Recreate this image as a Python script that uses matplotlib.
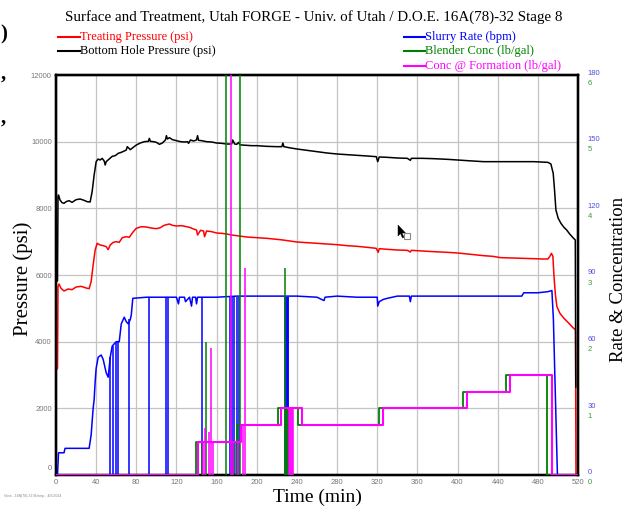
import matplotlib
matplotlib.use("Agg")
import matplotlib.pyplot as plt
from matplotlib.lines import Line2D
from matplotlib.patches import Polygon, Rectangle
from matplotlib.transforms import ScaledTranslation

# ---------------- data ----------------
# Treating pressure (psi)
tp_time = [0, 1.5, 2, 3, 5, 8, 12, 16, 20, 25, 30, 33, 35, 37, 39, 41, 44, 47, 50, 52,
           54, 57, 60, 63, 66, 70, 73, 77, 80, 85, 90, 93, 97, 100, 104, 107, 110, 113,
           116, 120, 125, 130, 133, 137, 140, 141, 144, 147, 148, 150, 155, 160, 165,
           170, 175, 180, 185, 190, 200, 210, 220, 226, 233, 240, 250, 260, 270, 280,
           290, 300, 310, 319, 321, 322, 330, 340, 350, 353, 354, 365, 376, 390, 400,
           410, 426, 435, 443, 455, 465, 476, 484, 490, 492, 493.5, 495, 496, 497.5,
           499, 502, 506, 510, 514, 517.5, 518]
tp_psi = [3150, 3200, 5650, 5730, 5600, 5520, 5580, 5560, 5640, 5660, 5610, 5590, 5800,
          6300, 6750, 6950, 6900, 6880, 6850, 6760, 6900, 6980, 7000, 6980, 7120, 7150,
          7130, 7300, 7400, 7450, 7440, 7420, 7400, 7390, 7420, 7480, 7510, 7530, 7490,
          7470, 7480, 7450, 7430, 7380, 7350, 7200, 7340, 7320, 7150, 7320, 7300, 7260,
          7250, 7230, 7200, 7180, 7160, 7140, 7120, 7100, 7070, 7050, 7020, 6990, 6970,
          6950, 6930, 6910, 6880, 6860, 6830, 6800, 6680, 6790, 6770, 6750, 6740, 6690,
          6740, 6720, 6700, 6680, 6660, 6630, 6580, 6560, 6520, 6510, 6500, 6490, 6480,
          6480, 6560, 6650, 6560, 6000, 5400, 5050, 4850, 4700, 4580, 4450, 4350, 0]

# Bottom hole pressure (psi)
bh_time = [0, 1.5, 2, 2.5, 4, 6, 8, 10, 13, 16, 20, 24, 28, 31, 34, 36, 38, 40, 42, 44,
           46, 48, 49, 50, 53, 56, 59, 62, 65, 68, 70, 71, 74, 77, 80, 84, 88, 92, 93,
           94, 97, 100, 103, 106, 109, 110, 111, 113, 116, 120, 124, 128, 131, 132, 134,
           137, 140, 141, 142, 145, 150, 155, 160, 165, 170, 175, 176, 178, 180, 182,
           183, 185, 190, 195, 200, 210, 220, 225, 226, 227, 232, 240, 250, 260, 270,
           280, 290, 300, 310, 319, 320.5, 322, 330, 340, 350, 353, 354, 365, 376, 390,
           400, 410, 426, 443, 460, 476, 490, 493, 495.3, 496.5, 498, 500.3, 503, 506,
           508.7, 512, 515, 517.3, 517.8]
bh_psi = [5820, 5820, 8350, 8400, 8250, 8170, 8150, 8200, 8230, 8180, 8260, 8280, 8240,
          8200, 8190, 8500, 9000, 9400, 9480, 9450, 9500, 9420, 9300, 9400, 9480, 9560,
          9580, 9650, 9680, 9720, 9750, 9850, 9760, 9830, 9900, 9960, 10000, 10010,
          10100, 10010, 10000, 9980, 9920, 9960, 10050, 10180, 10080, 10120, 10060,
          10030, 10000, 9990, 10000, 9950, 10050, 10020, 10050, 10180, 10040, 10030,
          10000, 9990, 9960, 9950, 9930, 9930, 10050, 9930, 9920, 9980, 9910, 9900,
          9890, 9880, 9880, 9860, 9850, 9850, 9960, 9850, 9820, 9780, 9740, 9700, 9660,
          9630, 9610, 9590, 9570, 9550, 9400, 9540, 9530, 9510, 9500, 9440, 9500, 9500,
          9490, 9470, 9450, 9430, 9400, 9400, 9400, 9400, 9380, 9330, 9050, 8600, 7950,
          7700, 7550, 7430, 7350, 7220, 7120, 7050, 2640]

# Slurry rate (bpm)
sr_time = [0, 1.5, 2.5, 8, 9, 33, 34, 35, 36, 37, 38, 39, 40, 42, 45, 47, 50, 52, 54,
           56, 58, 60, 63, 65, 68, 70, 72, 74, 75, 76.5, 90, 100, 110, 120, 122, 123,
           128, 129, 133, 135, 136, 139, 140, 141, 142, 160, 180, 200, 240, 260, 267,
           268, 280, 300, 320, 320.5, 322, 326, 330, 340, 352, 353, 354, 380, 420, 464,
           466, 480, 490, 494, 495.5, 499.5, 520]
sr_bpm = [0, 0, 10, 10, 12, 12, 15, 18, 24, 30, 34, 42, 48, 53, 54, 52, 46, 44, 53, 58,
          59, 60, 60, 68, 71, 69, 68, 70, 72, 79.5, 80, 80, 80, 80, 77, 80, 80, 78, 80,
          76, 80, 80, 77, 80, 80, 80, 80.5, 80.5, 80.5, 80, 78.5, 80, 80.5, 80, 80, 76,
          78, 79, 79.5, 80.5, 80.5, 78, 80.5, 80.5, 80.5, 80.5, 82, 82, 82.5, 83, 70, 0,
          0]
# momentary rate drop-outs to zero
sr_drop_time = [54, 57.2, 59.5, 61.9, 72.9, 92.8, 109.5, 111.8, 145, 173, 175.3, 177.6,
                180, 182, 228.5, 229.3, 230, 230.8, 231.5]
sr_drop_top = [53, 58, 60, 60, 70, 80, 80, 80, 80, 80, 80, 80, 80, 80, 80, 80, 80, 80, 80]

# Blender concentration (lb/gal), stage changes
bc_time = [0, 139, 180, 221, 241, 322, 405.5, 448.5, 489.5, 520]
bc_ppg = [0, 0.5, 0.75, 1.0, 0.75, 1.0, 1.25, 1.5, 0, 0]
bc_spike_time = [145, 149.7, 169.7, 176, 179, 183.6, 228.5, 229.2, 230, 230.8, 231.6]
bc_spike_top = [0.5, 2.0, 8.0, 0.5, 0.5, 8.0, 3.1, 1.0, 1.0, 1.0, 1.0]

# Concentration at formation (lb/gal), stage changes
cf_time = [0, 141, 184, 224, 245, 325.5, 409, 452, 494, 520]
cf_ppg = [0, 0.5, 0.75, 1.0, 0.75, 1.0, 1.25, 1.5, 0, 0]
cf_spike_time = [146, 148, 152, 154.7, 156.5, 174.7, 176.5, 181, 186.5, 188.6, 232,
                 233, 234, 235, 236]
cf_spike_top = [0.5, 0.7, 0.65, 1.9, 0.5, 8.0, 0.5, 0.5, 0.75, 3.1, 1.0, 1.0, 1.0,
                1.0, 1.0]

x_ticks = list(range(0, 521, 40))
p_ticks = list(range(0, 12001, 2000))
rate_ticks = list(range(0, 181, 30))
conc_ticks = list(range(0, 7))

title = "Surface and Treatment, Utah FORGE - Univ. of Utah / D.O.E. 16A(78)-32 Stage 8"

# ---------------- styling ----------------
C_TP, C_BH, C_SR, C_BC, C_CF = "#ff0000", "#000000", "#0000ff", "#008000", "#ff00ff"
SERIF = ["Liberation Serif", "DejaVu Serif"]
SANS = ["Liberation Sans", "DejaVu Sans"]
LW = 1.1

fig = plt.figure(figsize=(6.28, 5.08), dpi=100)
fig.patch.set_facecolor("white")
W, H = 628, 508
px = lambda x, y: (x / W, 1 - y / H)

ax = fig.add_axes([56 / W, 1 - 475 / H, 522 / W, 400 / H])
ax_r = ax.twinx()
ax_c = ax.twinx()

ax.set_xlim(0, 520)
ax.set_ylim(0, 12000)
ax_r.set_ylim(0, 180)
ax_c.set_ylim(0, 6)

ax.set_xticks(x_ticks)
ax.set_yticks(p_ticks)
ax.grid(True, color="#c4c4c4", lw=0.9)
ax.set_axisbelow(True)

for a in (ax, ax_r, ax_c):
    a.tick_params(length=0)
    for s in a.spines.values():
        s.set_linewidth(1.6)
        s.set_color("black")
ax.spines["bottom"].set_color("#333333")

ax.tick_params(axis="x", labelsize=5.5, labelcolor="#777777", pad=3)
ax.tick_params(axis="y", labelsize=5.5, labelcolor="#777777", pad=3)
for lbl in ax.get_xticklabels() + ax.get_yticklabels():
    lbl.set_fontfamily(SANS)
# the zero pressure label sits above the axis line
ylabels = ax.get_yticklabels()
ylabels[0].set_transform(ylabels[0].get_transform() + ScaledTranslation(0, 8 / 100, fig.dpi_scale_trans))

ax_r.set_yticks(rate_ticks)
ax_r.tick_params(axis="y", labelsize=5.5, labelcolor="#5050e0", pad=7)
for lbl in ax_r.get_yticklabels():
    lbl.set_fontfamily(SANS)
    lbl.set_transform(lbl.get_transform() + ScaledTranslation(0, 3 / 100, fig.dpi_scale_trans))
ax_c.set_yticks(conc_ticks)
ax_c.tick_params(axis="y", labelsize=5.5, labelcolor="#3a9a3a", pad=7)
for lbl in ax_c.get_yticklabels():
    lbl.set_fontfamily(SANS)
    lbl.set_transform(lbl.get_transform() + ScaledTranslation(0, -7 / 100, fig.dpi_scale_trans))

# ---------------- series ----------------
ax.plot(tp_time, tp_psi, color=C_TP, lw=LW, zorder=3)
ax.plot(bh_time, bh_psi, color=C_BH, lw=LW, zorder=3)
ax_r.plot(sr_time, sr_bpm, color=C_SR, lw=LW, zorder=3)
ax_r.vlines(sr_drop_time, 0, sr_drop_top, color=C_SR, lw=LW, zorder=3)
ax_c.plot(bc_time, bc_ppg, color=C_BC, lw=1.3, drawstyle="steps-post", zorder=4)
ax_c.vlines(bc_spike_time, 0, bc_spike_top, color=C_BC, lw=LW, zorder=4)
ax_c.plot(cf_time, cf_ppg, color=C_CF, lw=1.5, drawstyle="steps-post", zorder=5)
ax_c.vlines(cf_spike_time, 0, cf_spike_top, color=C_CF, lw=LW, zorder=5)

# ---------------- text ----------------
ax.set_xlabel("Time (min)", fontsize=14, family=SERIF, labelpad=2)
ax.set_ylabel("Pressure (psi)", fontsize=15, family=SERIF)
ax.yaxis.set_label_coords(-0.045, 0.49)
ax_c.set_ylabel("Rate & Concentration", fontsize=13.5, family=SERIF)
ax_c.yaxis.set_label_coords(1.062, 0.49)

fig.text(0.5, 1 - 17 / H, title, ha="center", va="center", fontsize=10.8, family=SERIF)

legend_left = [("Treating Pressure (psi)", C_TP), ("Bottom Hole Pressure (psi)", C_BH)]
legend_right = [("Slurry Rate (bpm)", C_SR), ("Blender Conc (lb/gal)", C_BC),
                ("Conc @ Formation (lb/gal)", C_CF)]
row_y = [37, 51, 66]
for (x0, x1), items in (((58, 80), legend_left), ((404, 425), legend_right)):
    for (label, col), yy in zip(items, row_y):
        fx0, fy = px(x0, yy)
        fx1, _ = px(x1, yy)
        fig.add_artist(Line2D([fx0, fx1], [fy, fy], color=col, lw=1.5,
                              transform=fig.transFigure))
        fig.text(fx1, fy, label, color=col, fontsize=9, family=SERIF,
                 ha="left", va="center")

fig.text(4 / W, 1 - 496 / H, "View - 16A(78)-32 M.ttmp - 4/5/2024", fontsize=2.5,
         color="#888888", family=SANS, ha="left", va="center")

# fragments of neighbouring text at the left edge
for ch, yy in ((")", 34), (",", 74), (",", 118)):
    fx, fy = px(0.5, yy)
    fig.text(fx, fy, ch, fontsize=15, fontweight="bold", family=SERIF,
             ha="left", va="center")

# mouse pointer left on the plot
pointer = [(398, 225), (398, 236), (400.5, 233.5), (402.5, 238), (404, 237.3),
           (402, 233), (405.5, 233)]
fig.add_artist(Polygon([px(x, y) for x, y in pointer], closed=True, facecolor="black",
                       edgecolor="black", lw=0.3, transform=fig.transFigure))
rx, ry = px(404, 239)
fig.add_artist(Rectangle((rx, ry), 6 / W, 6 / H, facecolor="none", edgecolor="#888888",
                         lw=0.8, transform=fig.transFigure))

fig.savefig("out.png", dpi=100, facecolor="white")
